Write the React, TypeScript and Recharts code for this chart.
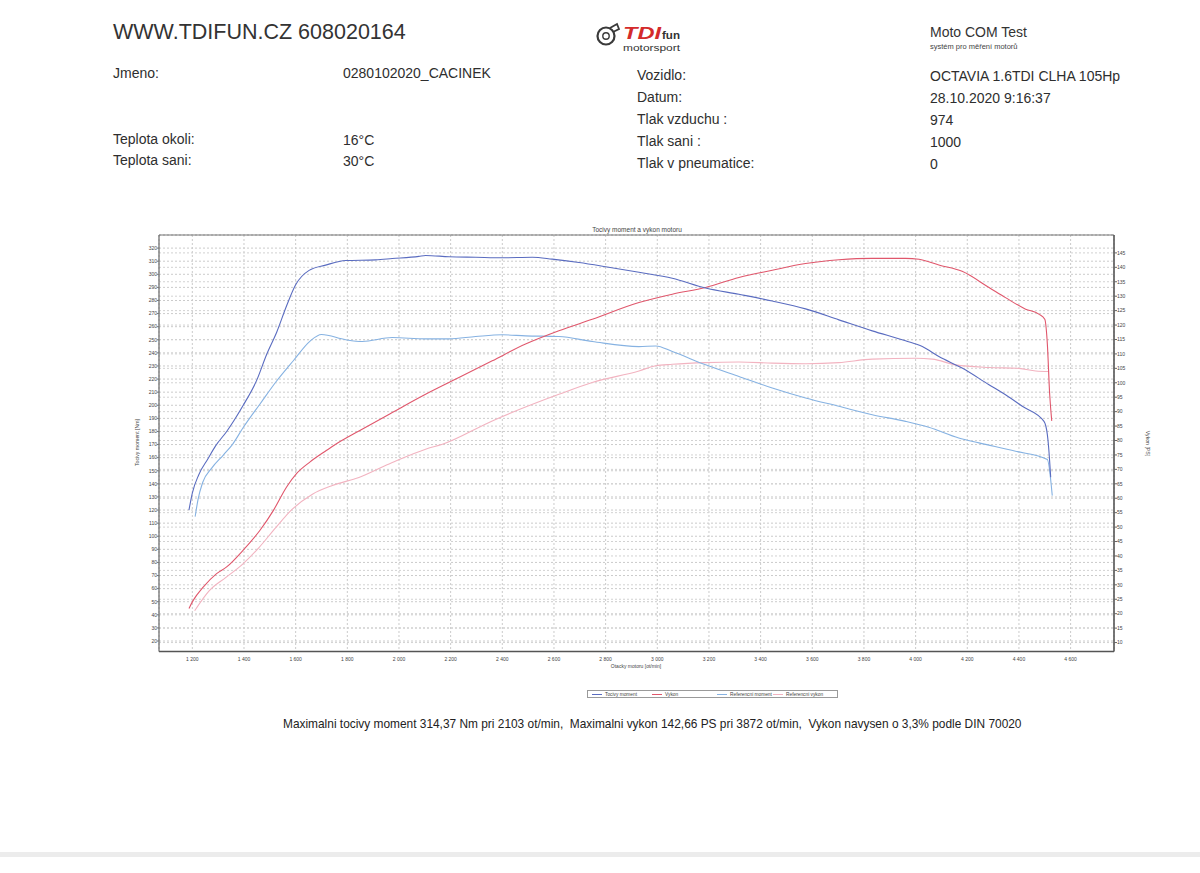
import React from 'react';
import { LineChart, Line, XAxis, YAxis, CartesianGrid, ReferenceLine } from 'recharts';

// ---- axis ticks ----
const xTicks = [1200, 1400, 1600, 1800, 2000, 2200, 2400, 2600, 2800, 3000, 3200, 3400, 3600, 3800, 4000, 4200, 4400, 4600];
const leftTicks = [20, 30, 40, 50, 60, 70, 80, 90, 100, 110, 120, 130, 140, 150, 160, 170, 180, 190, 200, 210, 220, 230, 240, 250, 260, 270, 280, 290, 300, 310, 320];
const rightTicks = [10, 15, 20, 25, 30, 35, 40, 45, 50, 55, 60, 65, 70, 75, 80, 85, 90, 95, 100, 105, 110, 115, 120, 125, 130, 135, 140, 145];

// ---- Tocivy moment [Nm] ----
const momentRpm = [1187, 1200, 1225, 1260, 1290, 1333, 1397, 1449, 1488, 1527, 1565, 1600, 1652, 1716, 1794, 1910, 1974, 2077, 2103, 2194, 2297, 2400, 2516, 2593, 2697, 2800, 2929, 3058, 3187, 3316, 3445, 3574, 3703, 3832, 3961, 4026, 4090, 4180, 4284, 4348, 4413, 4497, 4510, 4514, 4523];
const momentNm = [120, 133, 147, 159, 169, 180, 200, 219, 239, 256, 276, 292, 303, 307, 310.5, 311, 312, 313.7, 314.4, 313.4, 313, 312.6, 313, 311.6, 309, 305.8, 301.5, 297, 289.5, 284.7, 279.6, 273.6, 265.2, 256.8, 249.2, 244.8, 237.2, 228.4, 215.7, 208, 199.2, 187.7, 177.6, 170, 145];

// ---- Vykon [PS] ----
const vykonRpm = [1187, 1204, 1243, 1294, 1333, 1397, 1462, 1514, 1565, 1604, 1656, 1720, 1755, 1845, 1974, 2103, 2232, 2361, 2490, 2619, 2748, 2929, 3058, 3187, 3316, 3445, 3574, 3703, 3832, 3961, 4013, 4090, 4180, 4284, 4348, 4426, 4477, 4500, 4510, 4519, 4527];
const vykonPs = [21.8, 24.7, 29.3, 33.9, 36.2, 42, 48.9, 55.8, 63.9, 68.6, 72.6, 76.6, 78.7, 83.3, 89.7, 96, 101.8, 107.6, 113.4, 118, 122, 127.8, 130.7, 133, 136.5, 139, 141.3, 142.6, 143.1, 143.1, 142.8, 140.8, 138.6, 133, 129.5, 125.5, 123.8, 122, 113.4, 96, 86.8];

// ---- Referencni moment [Nm] ----
const refMomentRpm = [1211, 1222, 1240, 1275, 1320, 1355, 1397, 1462, 1527, 1591, 1656, 1700, 1794, 1858, 1974, 2103, 2194, 2297, 2400, 2490, 2619, 2748, 2929, 2994, 3058, 3187, 3316, 3445, 3574, 3703, 3832, 3961, 4051, 4167, 4245, 4387, 4510, 4529];
const refMomentNm = [115, 128, 141, 152, 162, 170, 183, 201, 218.7, 234, 249, 254, 250, 248.7, 251.7, 250.7, 250.7, 252.5, 253.8, 253, 252.5, 248.7, 244.8, 245.3, 241, 230.9, 222, 213.2, 205.6, 199.2, 192.8, 187.7, 183.2, 175, 171.3, 164.9, 158.6, 131];

// ---- Referencni vykon [PS] ----
const refVykonRpm = [1209, 1265, 1329, 1394, 1458, 1523, 1587, 1665, 1742, 1845, 1974, 2103, 2168, 2361, 2619, 2748, 2929, 2994, 3058, 3187, 3316, 3445, 3574, 3703, 3832, 4000, 4065, 4155, 4284, 4400, 4465, 4516];
const refVykonPs = [21, 27.9, 32.5, 37.1, 42.9, 49.8, 56.2, 61.4, 64.4, 67.2, 72.4, 77, 78.7, 86.8, 96, 100.1, 104.1, 105.9, 106.4, 107, 107.2, 106.8, 106.6, 107, 108.2, 108.5, 108.2, 106.2, 105.3, 105, 104.1, 103.9];

const zip = (xs: number[], ys: number[]) => xs.map((x, i) => ({ rpm: x, v: ys[i] }));
const momentData = zip(momentRpm, momentNm);
const vykonData = zip(vykonRpm, vykonPs);
const refMomentData = zip(refMomentRpm, refMomentNm);
const refVykonData = zip(refVykonRpm, refVykonPs);

const C_MOMENT = '#5a6cc0';
const C_VYKON = '#e0576c';
const C_REFMOMENT = '#86b2e2';
const C_REFVYKON = '#f2b3c0';

const FONT = '"Liberation Sans", Arial, Helvetica, sans-serif';
const TXT = '#2e2e2e';

const fmtRpm = (v: number) => {
  const s = String(v);
  return s.length > 3 ? s.slice(0, s.length - 3) + ' ' + s.slice(-3) : s;
};

const T = ({ x, y, size = 14, children, color = TXT, style = {} }: any) => (
  <div style={{ position: 'absolute', left: x, top: y - size * 0.6, fontSize: size, lineHeight: `${size * 1.2}px`, color, whiteSpace: 'nowrap', ...style }}>
    {children}
  </div>
);

const LegendItem = ({ x, color, label }: any) => (
  <>
    <div style={{ position: 'absolute', left: x, top: 3, width: 10, height: 0, borderTop: `1px solid ${color}` }} />
    <div style={{ position: 'absolute', left: x + 13, top: 0, fontSize: 4.8, lineHeight: '7px', color: '#444', whiteSpace: 'nowrap' }}>{label}</div>
  </>
);

export default function App() {
  return (
    <div style={{ position: 'absolute', left: 0, top: 0, width: 1200, height: 873, background: '#ffffff', overflow: 'hidden', fontFamily: FONT }}>
      {/* header */}
      <T x={113} y={33} size={21.5} color="#333">WWW.TDIFUN.CZ 608020164</T>

      {/* logo */}
      <svg style={{ position: 'absolute', left: 590, top: 18 }} width={110} height={38}>
        <circle cx={16} cy={18} r={8.5} fill="none" stroke="#3a3a3a" strokeWidth={2.2} />
        <circle cx={16} cy={18} r={3.2} fill="none" stroke="#3a3a3a" strokeWidth={1.4} />
        <path d="M 20 10 L 27 6 L 29 11 L 23 14" fill="none" stroke="#3a3a3a" strokeWidth={1.8} />
        <text x={33} y={20.5} fontFamily={FONT} fontWeight="bold" fontStyle="italic" fontSize={16} fill="#d42b2b" textLength={38} lengthAdjust="spacingAndGlyphs">TDI</text>
        <text x={72} y={20.5} fontFamily={FONT} fontWeight="bold" fontSize={11} fill="#333" textLength={18} lengthAdjust="spacingAndGlyphs">fun</text>
        <text x={33} y={33} fontFamily={FONT} fontSize={9.5} fill="#333" textLength={57} lengthAdjust="spacingAndGlyphs">motorsport</text>
      </svg>

      <T x={930} y={32} size={14} color="#333">Moto COM Test</T>
      <T x={930} y={46} size={7.5} color="#444">systém pro měření motorů</T>

      <T x={113} y={73}>Jmeno:</T>
      <T x={343} y={73}>0280102020_CACINEK</T>
      <T x={637} y={75}>Vozidlo:</T>
      <T x={930} y={76}>OCTAVIA 1.6TDI CLHA 105Hp</T>
      <T x={637} y={97}>Datum:</T>
      <T x={930} y={98}>28.10.2020 9:16:37</T>
      <T x={637} y={119}>Tlak vzduchu :</T>
      <T x={930} y={120}>974</T>
      <T x={113} y={139}>Teplota okoli:</T>
      <T x={343} y={140}>16°C</T>
      <T x={637} y={141}>Tlak sani :</T>
      <T x={930} y={142}>1000</T>
      <T x={113} y={160}>Teplota sani:</T>
      <T x={343} y={161}>30°C</T>
      <T x={637} y={163}>Tlak v pneumatice:</T>
      <T x={930} y={164}>0</T>

      {/* chart title and axis labels */}
      <div style={{ position: 'absolute', left: 537, width: 200, top: 226, textAlign: 'center', fontSize: 6.5, lineHeight: '8px', color: '#444' }}>Tocivy moment a vykon motoru</div>
      <div style={{ position: 'absolute', left: 536, width: 200, top: 663, textAlign: 'center', fontSize: 5, lineHeight: '7px', color: '#444' }}>Otacky motoru [ot/min]</div>
      <div style={{ position: 'absolute', left: 87, width: 100, top: 439, textAlign: 'center', fontSize: 5.2, lineHeight: '7px', color: '#444', transform: 'rotate(-90deg)' }}>Tocivy moment [Nm]</div>
      <div style={{ position: 'absolute', left: 1097, width: 100, top: 440, textAlign: 'center', fontSize: 5.2, lineHeight: '7px', color: '#444', transform: 'rotate(90deg)' }}>Vykon [PS]</div>

      <div style={{ position: 'absolute', left: 0, top: 0 }}>
        <LineChart width={1200} height={873} margin={{ top: 235, left: 129, right: 56, bottom: 201.5 }}>
          <CartesianGrid yAxisId="left" stroke="#cbcbcb" strokeDasharray="2 2" vertical={true} horizontal={true} />
          <CartesianGrid yAxisId="right" stroke="#d2d2d2" strokeDasharray="2 2" vertical={false} horizontal={true} />
          <XAxis
            dataKey="rpm"
            type="number"
            domain={[1071, 4768]}
            allowDataOverflow
            ticks={xTicks}
            interval={0}
            tickFormatter={fmtRpm}
            height={20}
            tickSize={0}
            tickMargin={6}
            tick={{ fontSize: 5, fill: '#444', fontFamily: FONT }}
            axisLine={{ stroke: '#555', strokeWidth: 1.6 }}
          />
          <YAxis
            yAxisId="left"
            orientation="left"
            type="number"
            domain={[12, 330]}
            allowDataOverflow
            ticks={leftTicks}
            interval={0}
            width={30}
            tickSize={2}
            tickMargin={0}
            tick={{ fontSize: 5, fill: '#444', fontFamily: FONT }}
            tickLine={{ stroke: '#777' }}
            axisLine={{ stroke: '#666', strokeWidth: 1.2 }}
          />
          <YAxis
            yAxisId="right"
            orientation="right"
            type="number"
            domain={[6.9, 151.2]}
            allowDataOverflow
            ticks={rightTicks}
            interval={0}
            width={30}
            tickSize={3}
            tickMargin={0}
            tick={{ fontSize: 5, fill: '#444', fontFamily: FONT }}
            tickLine={{ stroke: '#666' }}
            axisLine={{ stroke: '#555', strokeWidth: 1.6 }}
          />
          <ReferenceLine yAxisId="left" y={330} stroke="#777" strokeWidth={1.2} />
          <Line yAxisId="right" data={refVykonData} dataKey="v" type="monotone" stroke={C_REFVYKON} strokeWidth={1.1} dot={false} isAnimationActive={false} />
          <Line yAxisId="left" data={refMomentData} dataKey="v" type="monotone" stroke={C_REFMOMENT} strokeWidth={1.1} dot={false} isAnimationActive={false} />
          <Line yAxisId="right" data={vykonData} dataKey="v" type="monotone" stroke={C_VYKON} strokeWidth={1.1} dot={false} isAnimationActive={false} />
          <Line yAxisId="left" data={momentData} dataKey="v" type="monotone" stroke={C_MOMENT} strokeWidth={1.1} dot={false} isAnimationActive={false} />
        </LineChart>
      </div>

      {/* legend */}
      <div style={{ position: 'absolute', left: 587, top: 690, width: 251, height: 8, border: '1px solid #9a9a9a', boxSizing: 'border-box' }}>
        <LegendItem x={4} color={C_MOMENT} label="Tocivy moment" />
        <LegendItem x={64} color={C_VYKON} label="Vykon" />
        <LegendItem x={129} color={C_REFMOMENT} label="Referencni moment" />
        <LegendItem x={185} color={C_REFVYKON} label="Referencni vykon" />
      </div>

      {/* summary */}
      <T x={283} y={724} size={11.9} color="#222">Maximalni tocivy moment 314,37 Nm pri 2103 ot/min,&nbsp; Maximalni vykon 142,66 PS pri 3872 ot/min,&nbsp; Vykon navysen o 3,3% podle DIN 70020</T>

      {/* scan edge */}
      <div style={{ position: 'absolute', left: 0, top: 852, width: 1200, height: 5, background: '#ececec' }} />
    </div>
  );
}
